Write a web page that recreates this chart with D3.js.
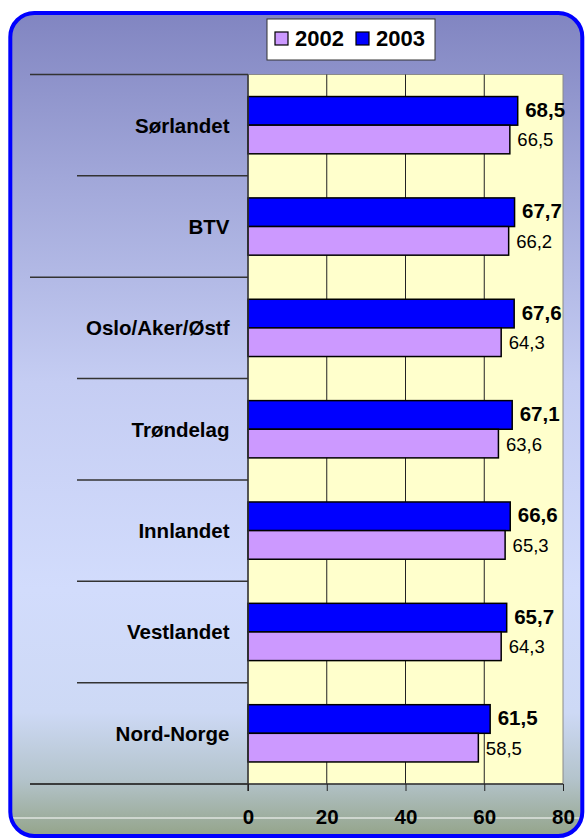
<!DOCTYPE html>
<html>
<head>
<meta charset="utf-8">
<script src="https://cdn.jsdelivr.net/npm/d3@7"></script>
<style>
html,body{margin:0;padding:0;background:#fff;}
svg{display:block;font-family:"Liberation Sans",Arial,sans-serif;}
</style>
</head>
<body>
<svg id="chart" width="587" height="838"></svg>
<script>
const categories = ["Sørlandet","BTV","Oslo/Aker/Østf","Trøndelag","Innlandet","Vestlandet","Nord-Norge"];
const values2003 = [68.5, 67.7, 67.6, 67.1, 66.6, 65.7, 61.5];
const values2002 = [66.5, 66.2, 64.3, 63.6, 65.3, 64.3, 58.5];
const seriesNames = ["2003", "2002"];
const legendNames = ["2002", "2003"];
const xTicks = [0, 20, 40, 60, 80];
const longSeparators = [0, 2, 7];

const colors = {"2002": "#cc99ff", "2003": "#0000ff"};

const svg = d3.select("#chart");
const defs = svg.append("defs");
const grad = defs.append("linearGradient").attr("id","bg").attr("x1",0).attr("y1",0).attr("x2",0).attr("y2",1);
[[0,"#8185c1"],[0.2,"#a1a7d9"],[0.45,"#c5cdf3"],[0.7,"#d2dcfc"],[0.85,"#cdd9f5"],[0.93,"#b4c4cc"],[1,"#94a48a"]]
  .forEach(([o,c]) => grad.append("stop").attr("offset",o).attr("stop-color",c));

// background panel
svg.append("rect").attr("x",10.3).attr("y",13).attr("width",572).attr("height",823)
  .attr("rx",24).attr("ry",24).attr("fill","url(#bg)");

const x = d3.scaleLinear().domain([0,80]).range([248,563]);
const y0 = d3.scaleBand().domain(categories).range([74.5,784]).padding(0);
const y1 = d3.scaleBand().domain(seriesNames).range([0,y0.bandwidth()]).paddingInner(0).paddingOuter(0.77);

// plot area
svg.append("rect").attr("x",x(0)).attr("y",y0.range()[0]).attr("width",x(80)-x(0)).attr("height",y0.range()[1]-y0.range()[0])
  .attr("fill","#ffffcc").attr("stroke","#8a8a8a").attr("stroke-width",1);

// gridlines
svg.append("g").selectAll("line").data(xTicks.filter(t => t>0 && t<80)).join("line")
  .attr("x1",d=>x(d)).attr("x2",d=>x(d)).attr("y1",y0.range()[0]).attr("y2",y0.range()[1])
  .attr("stroke","#222").attr("stroke-width",1);

// category separators
const bounds = d3.range(categories.length+1).map(i => i===categories.length ? y0.range()[1] : y0(categories[i]));
svg.append("g").selectAll("line").data(bounds).join("line")
  .attr("x1",(d,i)=> longSeparators.includes(i) ? 30 : 77).attr("x2",x(0))
  .attr("y1",d=>d).attr("y2",d=>d)
  .attr("stroke","#333").attr("stroke-width",1.5);

// bars
const rows = categories.map((c,i)=>({cat:c, "2003":values2003[i], "2002":values2002[i]}));
const g = svg.append("g");
rows.forEach(r => {
  seriesNames.forEach(s => {
    g.append("rect")
      .attr("x",x(0)).attr("y",y0(r.cat)+y1(s))
      .attr("width",x(r[s])-x(0)).attr("height",y1.bandwidth())
      .attr("fill",colors[s]).attr("stroke","#000").attr("stroke-width",1.5);
    g.append("text")
      .attr("x",x(r[s]) + 7.5)
      .attr("y",y0(r.cat)+y1(s)+y1.bandwidth()/2 + (s==="2003" ? 6 : 7))
      .attr("font-size", s==="2003" ? "20.5px" : "18.5px")
      .attr("font-weight", s==="2003" ? "bold" : "normal")
      .attr("fill","#000")
      .text(String(r[s].toFixed(1)).replace(".",","));
  });
});

// axes lines
svg.append("line").attr("x1",x(0)).attr("x2",x(0)).attr("y1",y0.range()[0]).attr("y2",y0.range()[1]+7)
  .attr("stroke","#333").attr("stroke-width",1.5);
svg.append("line").attr("x1",30).attr("x2",x(80)).attr("y1",y0.range()[1]).attr("y2",y0.range()[1])
  .attr("stroke","#333").attr("stroke-width",1.5);

// x axis via d3
const xAxis = d3.axisBottom(x).tickValues(xTicks).tickSize(7).tickPadding(20).tickFormat(d3.format("d"));
const ax = svg.append("g").attr("transform",`translate(0,${y0.range()[1]})`).call(xAxis);
ax.select(".domain").remove();
ax.selectAll(".tick line").attr("stroke","#222").attr("stroke-width",1);
ax.selectAll(".tick text").attr("font-size","20.5px").attr("font-weight","bold").attr("fill","#000")
  .attr("font-family","Liberation Sans, Arial, sans-serif").attr("dy",0).attr("y",40);

// white line near bottom
svg.append("line").attr("x1",11).attr("x2",581).attr("y1",818).attr("y2",818).attr("stroke","#fff").attr("stroke-width",1);
ax.raise();

// category labels
svg.append("g").selectAll("text").data(categories).join("text")
  .attr("x",229.5).attr("y",d=>y0(d)+y0.bandwidth()/2+7.5)
  .attr("text-anchor","end").attr("font-size","20.5px").attr("font-weight","bold").attr("fill","#000")
  .text(d=>d);

// legend
const lg = svg.append("g");
lg.append("rect").attr("x",267).attr("y",19).attr("width",168).attr("height",41)
  .attr("fill","#fff").attr("stroke","#333").attr("stroke-width",1);
const lx = [275, 356];
legendNames.forEach((s,i) => {
  lg.append("rect").attr("x",lx[i]).attr("y",32).attr("width",13).attr("height",13)
    .attr("fill",colors[s]).attr("stroke","#000").attr("stroke-width",1.2);
  lg.append("text").attr("x",lx[i]+20).attr("y",45.7).attr("font-size","22px").attr("font-weight","bold")
    .attr("fill","#000").text(s);
});

// border
svg.append("rect").attr("x",10.3).attr("y",13).attr("width",572).attr("height",823)
  .attr("rx",24).attr("ry",24).attr("fill","none").attr("stroke","#0000ff").attr("stroke-width",4);
</script>
</body>
</html>
